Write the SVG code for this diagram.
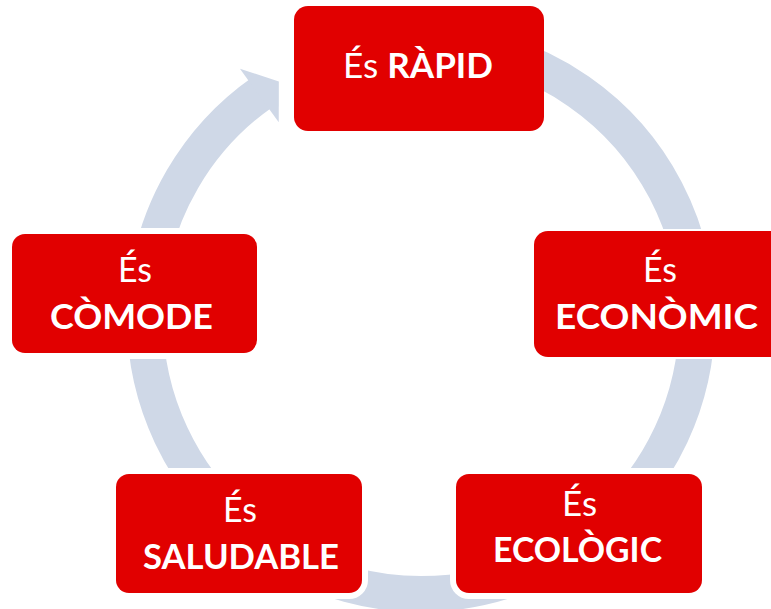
<svg xmlns="http://www.w3.org/2000/svg" width="771" height="609" viewBox="0 0 771 609">
<style>
.box{fill:#E10000;stroke:#FFFFFF;paint-order:stroke;}
.t{font-family:Lato,"Liberation Sans",sans-serif;font-size:35px;fill:#FFFFFF;text-anchor:middle;}
.b{font-weight:bold;}
.ring{fill:none;stroke:#CFD8E7;stroke-width:36;stroke-linecap:butt;}
.head{fill:#CFD8E7;}
</style>
<rect width="771" height="609" fill="#FFFFFF"/>
<g id="connectors">
<path class="ring" d="M 468.93 46.19 A 276 276 0 1 1 262.69 91.91"/>
<polygon class="head" points="239.96,68.82 278.85,81.42 278.75,122.22"/>
</g>
<g id="node-rapid">
<rect class="box" x="294" y="6" width="250" height="125" rx="14" stroke-width="0"/>
<text class="t" x="418" y="78" textLength="150" lengthAdjust="spacingAndGlyphs">És <tspan class="b">RÀPID</tspan></text>
</g>
<g id="node-economic">
<rect class="box" x="534" y="231" width="250" height="126" rx="14" stroke-width="4"/>
<text class="t" x="660" y="282" textLength="34" lengthAdjust="spacingAndGlyphs">És</text>
<text class="t b" x="656.5" y="329" textLength="203" lengthAdjust="spacingAndGlyphs">ECONÒMIC</text>
</g>
<g id="node-ecologic">
<rect class="box" x="456" y="474" width="246" height="119" rx="13" stroke-width="12"/>
<text class="t" x="579.5" y="516" textLength="35" lengthAdjust="spacingAndGlyphs">És</text>
<text class="t b" x="577.5" y="562" textLength="169" lengthAdjust="spacingAndGlyphs">ECOLÒGIC</text>
</g>
<g id="node-saludable">
<rect class="box" x="116" y="474" width="246" height="119" rx="13" stroke-width="12"/>
<text class="t" x="240" y="522" textLength="34" lengthAdjust="spacingAndGlyphs">És</text>
<text class="t b" x="241" y="569" textLength="196" lengthAdjust="spacingAndGlyphs">SALUDABLE</text>
</g>
<g id="node-comode">
<rect class="box" x="12" y="234" width="245" height="119" rx="13" stroke-width="12"/>
<text class="t" x="135" y="282" textLength="34" lengthAdjust="spacingAndGlyphs">És</text>
<text class="t b" x="131.5" y="329" textLength="163" lengthAdjust="spacingAndGlyphs">CÒMODE</text>
</g>
</svg>
